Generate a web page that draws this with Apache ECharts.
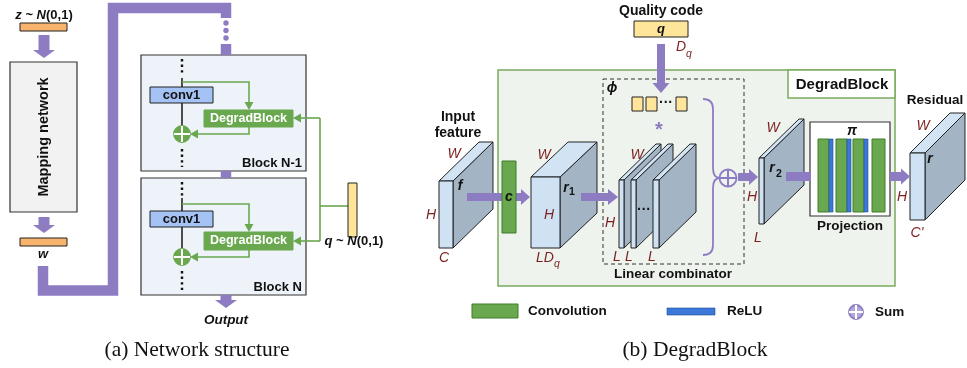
<!DOCTYPE html>
<html><head><meta charset="utf-8">
<script src="https://cdn.jsdelivr.net/npm/echarts@6/dist/echarts.min.js"></script>
<style>html,body{margin:0;padding:0;background:#fff}#c{width:967px;height:368px}</style>
</head><body><div id="c"></div>
<script>
// ---------- text content ----------
const captions = [['(a) Network structure', 197, 350], ['(b) DegradBlock', 695, 350]];
const titleLabels = [ // bold sans, black: [text, x, y, size, align]
  ['Quality code', 661, 11, 14, 'center'],
  ['Input', 458, 117, 14, 'center'],
  ['feature', 458, 133, 14, 'center'],
  ['Residual', 935, 100, 13.5, 'center'],
  ['DegradBlock', 842, 84.5, 15, 'center'],
  ['Linear combinator', 673, 274, 13.5, 'center'],
  ['Projection', 850, 226, 13.5, 'center'],
  ['conv1', 181.5, 95.5, 13, 'center'],
  ['conv1', 181.5, 219.5, 13, 'center'],
  ['Block N-1', 302, 163, 13, 'right'],
  ['Block N', 302, 287, 13, 'right'],
  ['Convolution', 528, 311.5, 13.5, 'left'],
  ['ReLU', 727, 311.5, 13.5, 'left'],
  ['Sum', 875, 312, 13.5, 'left'],
  ['\u00b7\u00b7\u00b7', 666, 103, 14, 'center'],
  ['\u00b7\u00b7\u00b7', 644, 210, 14, 'center']
];
const moduleLabels = [['DegradBlock', 248.5, 118.5], ['DegradBlock', 248.5, 241]];
const verticalLabels = [['Mapping network', 44, 137]];
const symbolLabels = [ // bold italic
  ['w', 43, 254, 13], ['Output', 226, 320, 13.5], ['q', 661, 29, 13], ['\u03d5', 612, 88, 14],
  ['f', 460, 186, 14], ['c', 509, 197, 14], ['r', 566, 188, 14], ['r', 772, 168, 14],
  ['\u03c0', 852, 131, 14], ['r', 930, 159, 14]
];
const subLabels = [ // [text, x, y, bold?, maroon?]
  ['1', 572, 192, 1, 0], ['2', 779, 174, 1, 0], ['q', 557, 264, 0, 1], ['q', 689, 54, 0, 1]
];
const dimLabels = [ // maroon italic
  ['W', 454, 154], ['H', 431, 215], ['C', 444, 258],
  ['W', 544, 155], ['H', 549, 215], ['LD', 545, 258],
  ['W', 637, 155], ['H', 610, 223], ['L', 617, 257], ['L', 629, 257], ['L', 652, 257],
  ['W', 773, 128], ['H', 752, 197], ['L', 758, 238],
  ['W', 923, 126], ['H', 902, 197], ["C'", 917, 233],
  ['D', 681, 47]
];
const noiseLabels = [['z', 'N', 44, 15], ['q', 'N', 354, 241]];
const starLabels = [['*', 659, 130]];

// ---------- geometry ----------
const panelRects = [
  [10, 62, 77, 212, 'map'], [141, 55, 306, 171, 'block'], [141, 178, 306, 295, 'block'],
  [498, 70, 895, 286, 'outer'], [788, 70, 895, 98, 'tag'], [603, 79, 744, 264, 'dashed'],
  [810, 122, 890, 216, 'proj']
];
const unitRects = [
  [20, 23, 67, 31, 'orange'], [20, 238, 67, 246, 'orange'],
  [150, 87, 213, 103, 'conv1'], [150, 211, 213, 227, 'conv1'],
  [204, 110, 293, 127, 'degrad'], [204, 232, 293, 250, 'degrad'],
  [348, 183, 357, 237, 'qbar'], [634, 21, 688, 37, 'qbar'],
  [632, 97, 643, 111, 'qbar'], [646, 97, 657, 111, 'qbar'], [676, 97, 687, 111, 'qbar'],
  [818, 139, 829, 212, 'conv'], [829, 139, 833, 212, 'relu'],
  [836, 139, 847, 212, 'conv'], [847, 139, 851, 212, 'relu'],
  [853, 139, 864, 212, 'conv'], [864, 139, 868, 212, 'relu'],
  [872, 139, 885, 212, 'conv'],
  [472, 304, 518, 318, 'conv'], [667, 308, 715, 315, 'relu']
];
const convRects = [[502, 161, 516, 233, 'conv']];
const skipPath = [[[43, 266], [43, 290.5], [113, 290.5], [113, 8], [226, 8], [226, 18]],
                  [[226, 44], [226, 55]], [[226, 171], [226, 178]]];
const trunkDots = [[226, 23], [226, 30.5], [226, 38]];
const mainSolid = [[[182, 78], [182, 87]], [[182, 103], [182, 143]], [[182, 198], [182, 211]], [[182, 227], [182, 264]]];
const mainDotted = [[[182, 59], [182, 74]], [[182, 149], [182, 167]], [[182, 182], [182, 196]], [[182, 271], [182, 290]]];
const greenPaths = [
  [[[182, 82], [249, 82], [249, 110]], 1],
  [[[249, 127], [249, 134], [190, 134]], 1],
  [[[182, 204], [249, 204], [249, 232]], 1],
  [[[249, 250], [249, 257], [190, 257]], 1],
  [[[320, 118], [320, 241]], 0],
  [[[320, 118], [293, 118]], 1],
  [[[320, 241], [293, 241]], 1],
  [[[348, 206], [320, 206]], 0]
];
const braceKnots = [[703, 99], [713, 99], [713, 109], [713, 168], [713, 178], [720, 178], [713, 178], [713, 188], [713, 245], [713, 255], [703, 255]];
const sumNodes = [[182, 134, 8, 'g'], [182, 257, 8, 'g'], [728, 178, 8.5, 'p'], [856, 312, 7, 'l']];
const tensors = [ // front x1,y1,x2,y2, depth dx,dy
  [439, 181, 453, 248, 40, -39], [531, 177, 560, 248, 37, -35],
  [619, 180, 624, 248, 37, -36], [631, 180, 636, 248, 37, -36], [653, 180, 659, 248, 37, -36],
  [759, 158, 764, 224, 40, -39], [910, 153, 925, 220, 40, -40]
];
const flowArrows = [ // x1,y1,x2,y2, shaft, head, headLen
  [44, 35, 44, 58, 11, 22, 8], [44, 217, 44, 233, 11, 22, 8], [226, 295, 226, 308, 11, 22, 8],
  [661, 44, 661, 93, 8, 17, 10], [467, 197, 503, 197, 8, 0, 0], [516, 197, 530, 197, 8, 16, 9],
  [581, 197, 618, 197, 8, 16, 10], [738, 177, 758, 177, 8, 16, 9],
  [786, 176.5, 811, 176.5, 9, 0, 0], [890, 176.5, 910, 176.5, 9, 16, 9]
];

// ---------- styles ----------
const INK = '#111111', MAROON = '#7b1f1f', PURPLE = '#8e7cc3', GREEN = '#6aa84f';
const SANS = "'Liberation Sans', Arial, Helvetica, 'DejaVu Sans', sans-serif";
const SERIF = "'Liberation Serif', 'Times New Roman', serif";
const RECT_STYLE = {
  orange: {fill: '#f8b36c', stroke: '#222', lineWidth: 1},
  map: {fill: '#f2f2f2', stroke: '#333', lineWidth: 1.2},
  block: {fill: '#eef3fa', stroke: '#333', lineWidth: 1.2},
  conv1: {fill: '#a4c2f4', stroke: '#222', lineWidth: 1},
  degrad: {fill: GREEN, stroke: GREEN, lineWidth: 1},
  qbar: {fill: '#ffe599', stroke: '#222', lineWidth: 1},
  outer: {fill: '#eff3ee', stroke: '#7aab5e', lineWidth: 1.5},
  tag: {fill: '#ffffff', stroke: '#7aab5e', lineWidth: 1.5},
  dashed: {fill: 'none', stroke: '#333', lineWidth: 1, lineDash: [4, 3]},
  conv: {fill: GREEN, stroke: '#3f7d2b', lineWidth: 1},
  proj: {fill: '#ffffff', stroke: '#333', lineWidth: 1.2},
  relu: {fill: '#3c78d8', stroke: '#1f4e99', lineWidth: 0.6}
};

// ---------- builders ----------
function rectEl(r, api) {
  const p1 = api.coord([r[0], r[1]]), p2 = api.coord([r[2], r[3]]), s = RECT_STYLE[r[4]];
  return {type: 'rect', shape: {x: Math.min(p1[0], p2[0]), y: Math.min(p1[1], p2[1]),
    width: Math.abs(p2[0] - p1[0]), height: Math.abs(p2[1] - p1[1])},
    style: {fill: s.fill, stroke: s.stroke, lineWidth: s.lineWidth, lineDash: s.lineDash || null}};
}
function lineEl(pts, api, stroke, lw, dash) {
  return {type: 'polyline', shape: {points: pts.map(p => api.coord(p))},
    style: {stroke: stroke, lineWidth: lw, fill: null, lineDash: dash || null, lineJoin: 'miter', lineCap: 'butt'}};
}
function greenEl(g, api) {
  const pts = g[0].map(p => api.coord(p));
  const children = [];
  const linePts = pts.slice();
  if (g[1]) {
    const a = pts[pts.length - 2], b = pts[pts.length - 1];
    const L = Math.hypot(b[0] - a[0], b[1] - a[1]);
    const ux = (b[0] - a[0]) / L, uy = (b[1] - a[1]) / L, hl = 8, hw = 4.5;
    const base = [b[0] - ux * hl, b[1] - uy * hl];
    linePts[linePts.length - 1] = base;
    children.push({type: 'polygon', shape: {points: [b, [base[0] - uy * hw, base[1] + ux * hw], [base[0] + uy * hw, base[1] - ux * hw]]}, style: {fill: GREEN}});
  }
  children.unshift({type: 'polyline', shape: {points: linePts}, style: {stroke: GREEN, lineWidth: 1.6, fill: null}});
  return {type: 'group', children};
}
function arrowEl(a, api) {
  const s = api.coord([a[0], a[1]]), e = api.coord([a[2], a[3]]);
  const L = Math.hypot(e[0] - s[0], e[1] - s[1]);
  const ux = (e[0] - s[0]) / L, uy = (e[1] - s[1]) / L, nx = -uy, ny = ux;
  const sw = a[4] / 2, hw = a[5] / 2, hl = a[6];
  const b = [e[0] - ux * hl, e[1] - uy * hl];
  const pts = [[s[0] + nx * sw, s[1] + ny * sw], [b[0] + nx * sw, b[1] + ny * sw]];
  if (hl > 0) { pts.push([b[0] + nx * hw, b[1] + ny * hw], e, [b[0] - nx * hw, b[1] - ny * hw]); }
  pts.push([b[0] - nx * sw, b[1] - ny * sw], [s[0] - nx * sw, s[1] - ny * sw]);
  return {type: 'polygon', shape: {points: pts}, style: {fill: PURPLE}};
}
function tensorEl(t, api) {
  const [x1, y1, x2, y2, dx, dy] = t;
  const P = (x, y) => api.coord([x, y]);
  const st = (f) => ({fill: f, stroke: '#222', lineWidth: 1, lineJoin: 'round'});
  return {type: 'group', children: [
    {type: 'polygon', shape: {points: [P(x2, y1), P(x2 + dx, y1 + dy), P(x2 + dx, y2 + dy), P(x2, y2)]}, style: st('#a3b4c5')},
    {type: 'polygon', shape: {points: [P(x1, y1), P(x1 + dx, y1 + dy), P(x2 + dx, y1 + dy), P(x2, y1)]}, style: st('#d2e3f3')},
    {type: 'polygon', shape: {points: [P(x1, y1), P(x2, y1), P(x2, y2), P(x1, y2)]}, style: st('#cfe2f3')}
  ]};
}
function sumEl(n, api) {
  const c = api.coord([n[0], n[1]]), r = n[2];
  let fill, stroke, cross;
  if (n[3] === 'g') { fill = GREEN; stroke = GREEN; cross = '#ffffff'; }
  else if (n[3] === 'p') { fill = 'none'; stroke = PURPLE; cross = PURPLE; }
  else { fill = '#b4a7d6'; stroke = PURPLE; cross = '#ffffff'; }
  return {type: 'group', children: [
    {type: 'circle', shape: {cx: c[0], cy: c[1], r: r}, style: {fill, stroke, lineWidth: 1.8}},
    {type: 'line', shape: {x1: c[0] - r, y1: c[1], x2: c[0] + r, y2: c[1]}, style: {stroke: cross, lineWidth: 2}},
    {type: 'line', shape: {x1: c[0], y1: c[1] - r, x2: c[0], y2: c[1] + r}, style: {stroke: cross, lineWidth: 2}}
  ]};
}
function braceEl(k, api) {
  const p = k.map(q => api.coord(q)).map(q => q[0] + ' ' + q[1]);
  const d = `M${p[0]} Q${p[1]} ${p[2]} L${p[3]} Q${p[4]} ${p[5]} Q${p[6]} ${p[7]} L${p[8]} Q${p[9]} ${p[10]}`;
  return {type: 'path', shape: {pathData: d}, style: {fill: null, stroke: PURPLE, lineWidth: 1.8}};
}
function textEl(api, x, y, text, o) {
  const c = api.coord([x, y]);
  return {type: 'text', x: c[0], y: c[1], rotation: o.rot || 0,
    style: {text: text, x: 0, y: 0, fill: o.color || INK, fontFamily: o.family || SANS, fontSize: o.size,
      fontWeight: o.weight || 'normal', fontStyle: o.style || 'normal', align: o.align || 'center',
      verticalAlign: 'middle', rich: o.rich}};
}

function series(z, items, anchor, build) {
  return {type: 'custom', coordinateSystem: 'cartesian2d', z: z, silent: true, animation: false, clip: false,
    data: items.map(anchor), renderItem: (params, api) => build(items[params.dataIndex], api)};
}
const rA = r => [r[0], r[1]];
const pA = p => [p[0][0], p[0][1]];

const chart = echarts.init(document.getElementById('c'), null, {renderer: 'canvas', width: 967, height: 368});
chart.setOption({
  backgroundColor: '#ffffff',
  animation: false,
  grid: {left: 0, right: 0, top: 0, bottom: 0},
  xAxis: {type: 'value', min: 0, max: 967, show: false},
  yAxis: {type: 'value', min: 0, max: 368, inverse: true, show: false},
  series: [
    series(1, panelRects, rA, rectEl),
    series(2, skipPath, pA, (p, api) => lineEl(p, api, PURPLE, 10.5)),
    series(2, trunkDots, rA, (d, api) => { const c = api.coord(d); return {type: 'circle', shape: {cx: c[0], cy: c[1], r: 2.7}, style: {fill: PURPLE}}; }),
    series(3, mainSolid, pA, (p, api) => lineEl(p, api, '#222', 1.6)),
    series(3, mainDotted, pA, (p, api) => lineEl(p, api, '#111', 2.4, [2.4, 3.2])),
    series(3, greenPaths, g => g[0][0], greenEl),
    series(3, [braceKnots], k => k[0], braceEl),
    series(4, unitRects, rA, rectEl),
    series(5, sumNodes, rA, sumEl),
    series(6, tensors, rA, tensorEl),
    series(7, flowArrows, rA, arrowEl),
    series(8, convRects, rA, rectEl),
    series(9, titleLabels, l => [l[1], l[2]], (l, api) => textEl(api, l[1], l[2], l[0], {size: l[3], weight: 'bold', align: l[4]})),
    series(9, moduleLabels, l => [l[1], l[2]], (l, api) => textEl(api, l[1], l[2], l[0], {size: 12.5, weight: 'bold', color: '#ffffff'})),
    series(9, verticalLabels, l => [l[1], l[2]], (l, api) => textEl(api, l[1], l[2], l[0], {size: 14.5, weight: 'bold', rot: Math.PI / 2})),
    series(9, symbolLabels, l => [l[1], l[2]], (l, api) => textEl(api, l[1], l[2], l[0], {size: l[3], weight: 'bold', style: 'italic'})),
    series(9, subLabels, l => [l[1], l[2]], (l, api) => textEl(api, l[1], l[2], l[0], {size: 10.5, weight: l[3] ? 'bold' : 'normal', style: l[4] ? 'italic' : 'normal', color: l[4] ? MAROON : INK})),
    series(9, dimLabels, l => [l[1], l[2]], (l, api) => textEl(api, l[1], l[2], l[0], {size: 14, style: 'italic', color: MAROON})),
    series(9, starLabels, l => [l[1], l[2]], (l, api) => textEl(api, l[1], l[2], l[0], {size: 20, weight: 'bold', color: PURPLE})),
    series(9, noiseLabels, l => [l[2], l[3]], (l, api) => textEl(api, l[2], l[3], `{i|${l[0]}}{n| ~ }{i|${l[1]}}{n|(0,1)}`, {size: 13, weight: 'bold',
      rich: {i: {fontFamily: SANS, fontSize: 13, fontWeight: 'bold', fontStyle: 'italic', fill: INK},
             n: {fontFamily: SANS, fontSize: 13, fontWeight: 'bold', fontStyle: 'normal', fill: INK}}})),
    series(9, captions, l => [l[1], l[2]], (l, api) => textEl(api, l[1], l[2], l[0], {size: 21.5, family: SERIF}))
  ]
});
</script>
</body></html>
